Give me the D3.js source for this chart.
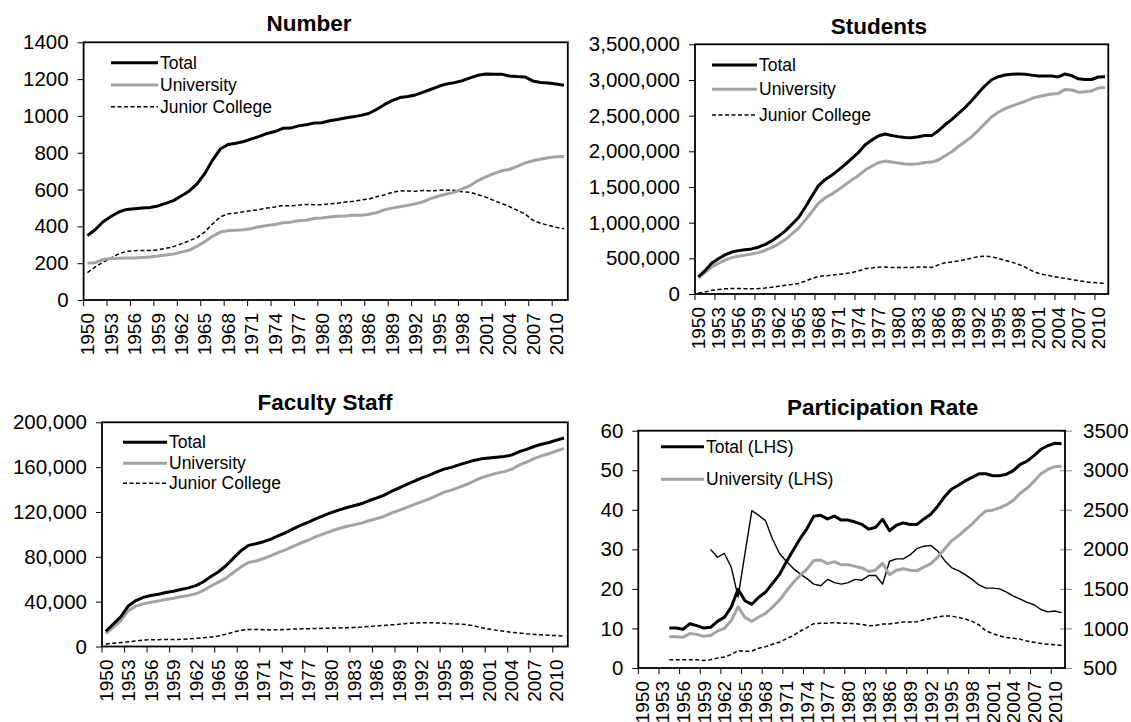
<!DOCTYPE html>
<html><head><meta charset="utf-8">
<script src="https://cdn.jsdelivr.net/npm/d3@7"></script>
<style>
body{margin:0;background:#fff}
svg{display:block}
text{font-family:"Liberation Sans",Arial,sans-serif;fill:#000}
</style>
</head><body>
<svg id="c" width="1131" height="722"></svg>
<script>
// ---- categories ----
const years = [1950,1951,1952,1953,1954,1955,1956,1957,1958,1959,
  1960,1961,1962,1963,1964,1965,1966,1967,1968,1969,
  1970,1971,1972,1973,1974,1975,1976,1977,1978,1979,
  1980,1981,1982,1983,1984,1985,1986,1987,1988,1989,
  1990,1991,1992,1993,1994,1995,1996,1997,1998,1999,
  2000,2001,2002,2003,2004,2005,2006,2007,2008,2009,2010,2011];
const xTickYears = [1950,1953,1956,1959,1962,1965,1968,1971,1974,1977,1980,1983,1986,1989,1992,1995,1998,2001,2004,2007,2010];

// ---- Number ----
const numTotal = [350,383,425,454,478,492,496,500,503,511,525,540,565,591,630,686,759,820,845,852,861,875,889,905,915,933,934,946,952,961,963,974,981,989,996,1003,1013,1035,1061,1083,1100,1106,1114,1129,1145,1161,1174,1181,1192,1207,1221,1228,1227,1227,1217,1214,1212,1190,1182,1179,1173,1167];
const numUniv = [201,203,220,226,227,228,228,231,234,239,245,250,260,270,291,317,346,369,377,379,382,389,398,405,410,420,423,431,433,443,446,451,455,457,460,460,465,474,490,499,507,514,523,534,552,565,576,586,604,622,649,669,686,702,709,726,744,756,765,773,778,780];
const numJC = [149,180,205,228,251,264,268,269,269,272,280,290,305,321,339,369,413,451,468,473,479,486,491,500,505,513,511,515,519,518,517,523,526,532,536,543,548,561,571,584,593,592,591,595,593,596,598,595,588,585,572,559,541,525,508,488,468,434,417,406,395,387];
const numYTicks = [0,200,400,600,800,1000,1200,1400];

// ---- Students (thousands) ----
const stTotal = [240,327,431,493,548,588,608,620,632,656,693,744,808,882,973,1068,1209,1367,1515,1602,1663,1736,1814,1898,1981,2088,2157,2214,2243,2221,2206,2194,2189,2204,2222,2220,2287,2372,2444,2529,2612,2709,2818,2919,3003,3046,3070,3081,3085,3079,3068,3056,3054,3055,3043,3084,3061,3016,3008,3007,3042,3044];
const stUniv = [225,300,380,430,475,510,530,545,560,580,610,650,700,760,840,920,1030,1150,1270,1346,1400,1460,1530,1597,1659,1734,1791,1840,1863,1850,1835,1822,1817,1826,1844,1849,1879,1935,1994,2067,2133,2205,2294,2389,2482,2547,2597,2634,2668,2701,2740,2766,2786,2804,2809,2865,2859,2829,2836,2846,2887,2893];
const stJC = [15,27,51,63,73,78,78,75,72,76,83,94,108,122,133,148,179,217,245,256,263,276,284,301,322,354,366,374,380,371,371,372,372,378,378,371,408,437,450,462,479,504,524,530,521,499,473,447,417,378,328,290,268,251,234,219,202,187,172,161,155,151];
const stYTicks = [0,500,1000,1500,2000,2500,3000,3500];

// ---- Faculty Staff (thousands) ----
const facTotal = [13.6,20,26.5,36.2,41,43.8,45.5,46.6,48.2,49.3,50.8,52.3,54.3,57.8,62.5,66.7,72,78.8,85.5,90.2,91.6,93.5,95.8,99,101.7,105.2,108.3,110.9,114,116.7,119.4,121.6,123.8,125.5,127.3,130,132.3,134.8,138.3,141.3,144.3,147.4,150.2,152.7,155.5,158.2,159.8,162,164,166,167.4,168.1,168.9,169.5,170.7,173.7,175.8,178.4,180.4,182,184.1,186];
const facUniv = [11.5,17,23,32,36,38,39.5,40.5,42,43,44.4,45.5,47,50,54,57.4,61,66,71,75,76.3,78.5,81,84,86.5,89.6,92.5,95,98,100.5,103,105,107,108.5,110,112.2,114,116,119,121.5,123.8,126.5,129,131.5,134.5,137.5,139.5,142,144.5,147.5,150.6,152.5,154.5,156,158,161.7,164.5,167.6,170,172,174.4,176.7];
const facJC = [2.1,3,3.5,4.2,5,5.8,6,6.1,6.2,6.3,6.4,6.8,7.3,7.8,8.5,9.3,11,12.8,14.5,15.2,15.3,15,14.8,15,15.2,15.6,15.8,15.9,16,16.2,16.4,16.6,16.8,17,17.3,17.8,18.3,18.8,19.3,19.8,20.5,20.9,21.2,21.2,21,20.7,20.3,20,19.5,18.5,16.8,15.6,14.4,13.5,12.7,12,11.3,10.8,10.4,10,9.7,9.3];
const facYTicks = [0,40,80,120,160,200];

// ---- Participation Rate ----
const prTotal = [null,null,null,null,10.1,10.1,9.8,11.2,10.7,10.1,10.3,11.8,12.8,15.4,19.9,17.0,16.1,17.9,19.2,21.4,23.6,26.8,29.8,32.7,35.2,38.4,38.6,37.7,38.4,37.4,37.4,36.9,36.3,35.1,35.6,37.6,34.7,36.1,36.7,36.3,36.3,37.7,38.9,40.9,43.3,45.2,46.2,47.3,48.2,49.1,49.1,48.6,48.6,49.0,49.9,51.5,52.3,53.7,55.3,56.2,56.8,56.7];
const prUniv = [null,null,null,null,7.9,7.9,7.8,8.7,8.5,8.0,8.2,9.3,10.0,12.0,15.5,12.8,11.8,12.9,13.8,15.4,17.1,19.4,21.6,23.4,25.0,27.2,27.3,26.4,26.9,26.1,26.1,25.7,25.3,24.4,24.8,26.5,23.6,24.7,25.1,24.7,24.6,25.5,26.4,28.0,30.1,32.1,33.4,34.9,36.4,38.2,39.7,39.9,40.5,41.3,42.4,44.2,45.5,47.2,49.1,50.2,50.9,51.0];
const prJC = [null,null,null,null,2.1,2.1,2.1,2.1,2.1,1.9,2.1,2.5,2.8,3.4,4.4,4.2,4.3,5.0,5.4,6.0,6.5,7.4,8.2,9.3,10.2,11.2,11.3,11.3,11.5,11.3,11.3,11.2,11.0,10.7,10.8,11.1,11.1,11.4,11.6,11.6,11.7,12.2,12.5,12.9,13.2,13.1,12.8,12.4,11.8,10.9,9.4,8.7,8.1,7.7,7.5,7.3,6.8,6.5,6.2,6.0,5.9,5.7];
const prPop18 = [null,null,null,null,null,null,null,null,null,null,2000,1900,1950,1775,1400,1950,2490,2430,2360,2130,1950,1850,1760,1690,1630,1560,1540,1620,1580,1560,1580,1620,1610,1670,1670,1560,1850,1880,1880,1930,2010,2040,2050,1980,1860,1770,1730,1680,1620,1550,1510,1510,1500,1460,1410,1370,1330,1300,1240,1210,1220,1200];
const prYTicks = [0,10,20,30,40,50,60];
const prYRTicks = [500,1000,1500,2000,2500,3000,3500];

const BLACK = "#000", GRAY = "#a3a3a3";
const svg = d3.select("#c");

function panel(o) {
  const g = svg.append("g");
  const x = d3.scaleBand().domain(years).range([o.left, o.right]).padding(0);
  const bw = x.bandwidth();
  const y = d3.scaleLinear().domain(o.yDomain).range([o.bottom, o.top]);
  const yR = o.yRDomain ? d3.scaleLinear().domain(o.yRDomain).range([o.bottom, o.top]) : null;

  g.append("text").attr("x", o.titleX).attr("y", o.titleY).attr("dy", "0.35em")
    .attr("text-anchor", "middle").style("font-weight", "bold").style("font-size", "22.5px").text(o.title);

  const ya = g.append("g").attr("transform", `translate(${o.left},0)`)
    .call(d3.axisLeft(y).tickValues(o.yTicks).tickSize(6).tickPadding(9).tickFormat(o.yFormat));
  ya.select(".domain").remove();
  ya.selectAll("text").style("font-size", "20.5px");

  if (yR) {
    const yra = g.append("g").attr("transform", `translate(${o.right},0)`)
      .call(d3.axisRight(yR).tickValues(o.yRTicks).tickSize(7).tickPadding(11).tickFormat(d3.format("d")));
    yra.select(".domain").remove();
    yra.selectAll(".tick line").attr("x1", -5).attr("x2", 7).attr("stroke", "#888");
    yra.selectAll("text").style("font-size", "20.5px");
  }

  const xa = g.append("g").attr("transform", `translate(0,${o.bottom})`)
    .call(d3.axisBottom(x).tickValues(xTickYears).tickSize(6));
  xa.select(".domain").remove();
  xa.selectAll(".tick line").attr("x1", -bw / 2).attr("x2", -bw / 2);
  xa.selectAll(".tick text").attr("transform", "rotate(-90)").attr("x", -13).attr("y", 0)
    .attr("dy", "0.36em").style("text-anchor", "end").style("font-size", "19px");

  o.series.forEach(s => {
    const sc = s.right ? yR : y;
    const line = d3.line().defined(d => d != null)
      .x((d, i) => x(years[i]) + bw / 2).y(d => sc(d));
    g.append("path").datum(s.values).attr("d", line).attr("fill", "none")
      .attr("stroke", s.color).attr("stroke-width", s.width)
      .attr("stroke-dasharray", s.dash || null).attr("stroke-linejoin", "round");
  });

  g.append("rect").attr("x", o.left).attr("y", o.top)
    .attr("width", o.right - o.left).attr("height", o.bottom - o.top)
    .attr("fill", "none").attr("stroke", "#000").attr("stroke-width", 1.8);

  o.legend.forEach((s, i) => {
    const ly = o.legendYs[i];
    g.append("line").attr("x1", o.legendX1).attr("x2", o.legendX2).attr("y1", ly).attr("y2", ly)
      .attr("stroke", s.color).attr("stroke-width", s.width).attr("stroke-dasharray", s.dash || null);
    g.append("text").attr("x", o.legendX2 + 2).attr("y", ly).attr("dy", "0.35em")
      .style("font-size", "17.5px").text(s.name);
  });
}

const sTotal = (v) => ({name: "Total", values: v, color: BLACK, width: 3});
const sUniv = (v) => ({name: "University", values: v, color: GRAY, width: 3});
const sJC = (v) => ({name: "Junior College", values: v, color: BLACK, width: 1.5, dash: "4,2.5"});

panel({
  title: "Number", titleX: 309, titleY: 23,
  left: 83.6, right: 567.8, top: 42.3, bottom: 300,
  yDomain: [0, 1400], yTicks: numYTicks, yFormat: d3.format("d"),
  series: [sJC(numJC), sUniv(numUniv), sTotal(numTotal)],
  legend: [sTotal(numTotal), sUniv(numUniv), sJC(numJC)],
  legendX1: 111, legendX2: 158, legendYs: [62.7, 85, 106.7]
});

panel({
  title: "Students", titleX: 879, titleY: 26,
  left: 695, right: 1108.3, top: 44.3, bottom: 294,
  yDomain: [0, 3500], yTicks: stYTicks, yFormat: d => d3.format(",")(d * 1000),
  series: [sJC(stJC), sUniv(stUniv), sTotal(stTotal)],
  legend: [sTotal(stTotal), sUniv(stUniv), sJC(stJC)],
  legendX1: 712, legendX2: 757, legendYs: [65, 89.3, 115]
});

panel({
  title: "Faculty Staff", titleX: 325, titleY: 401.7,
  left: 102, right: 567.8, top: 422.3, bottom: 646.5,
  yDomain: [0, 200], yTicks: facYTicks, yFormat: d => d3.format(",")(d * 1000),
  series: [sJC(facJC), sUniv(facUniv), sTotal(facTotal)],
  legend: [sTotal(facTotal), sUniv(facUniv), sJC(facJC)],
  legendX1: 123, legendX2: 167, legendYs: [442.3, 463.3, 483.3]
});

panel({
  title: "Participation Rate", titleX: 882.7, titleY: 407.3,
  left: 638.3, right: 1065, top: 430.7, bottom: 668,
  yDomain: [0, 60], yTicks: prYTicks, yFormat: d3.format("d"),
  yRDomain: [500, 3500], yRTicks: prYRTicks,
  series: [
    {values: prJC, color: BLACK, width: 1.5, dash: "4,2.5"},
    {values: prPop18, color: BLACK, width: 1.4, right: true},
    {values: prUniv, color: GRAY, width: 3},
    {values: prTotal, color: BLACK, width: 3}
  ],
  legend: [
    {name: "Total (LHS)", color: BLACK, width: 3},
    {name: "University (LHS)", color: GRAY, width: 3}
  ],
  legendX1: 661, legendX2: 704, legendYs: [446.7, 479.3]
});
</script>
</body></html>
